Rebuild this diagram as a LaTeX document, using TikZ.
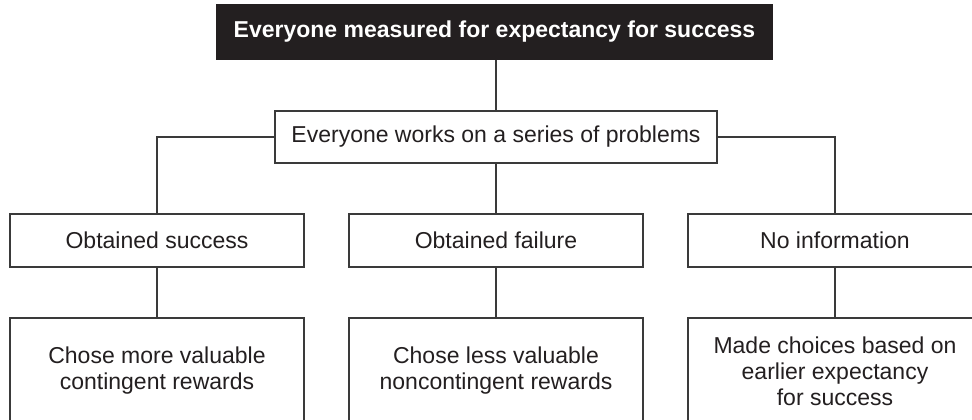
\documentclass[tikz,border=0pt]{standalone}
\usepackage{fontspec}
\setmainfont{Liberation Sans}
\definecolor{ink}{HTML}{231F20}
\definecolor{linec}{HTML}{3A3A3A}
\begin{document}
\begin{tikzpicture}[x=1pt,y=-1pt,
  txt/.style={font=\fontsize{23}{26}\selectfont, text=ink, align=center, inner sep=0pt},
  box/.style={txt, draw=linec, line width=1.1pt, fill=white},
  headbox/.style={draw=ink, fill=ink, text=white, font=\bfseries\fontsize{23}{26}\selectfont, inner sep=0pt, line width=1.1pt},
  conn/.style={draw=linec, line width=1.1pt}]
\useasboundingbox (0,0) rectangle (972,420);
\clip (0,0) rectangle (972,420);
\node[headbox, minimum width=555pt, minimum height=54pt] (top) at (494.5,32) {Everyone measured for expectancy for success};
\node[box, minimum width=442pt, minimum height=52pt] (work) at (496,137) {Everyone works on a series of problems};
\node[box, minimum width=294pt, minimum height=53pt] (succ) at (157,240.5) {Obtained success};
\node[box, minimum width=294pt, minimum height=53pt] (fail) at (496,240.5) {Obtained failure};
\node[box, minimum width=294pt, minimum height=53pt] (noinf) at (835,240.5) {No information};
\node[box, minimum width=294pt, minimum height=106pt] (more) at (157,371) {Chose more valuable\\contingent rewards};
\node[box, minimum width=294pt, minimum height=106pt] (less) at (496,371) {Chose less valuable\\noncontingent rewards};
\node[box, minimum width=294pt, minimum height=106pt] (made) at (835,371) {Made choices based on\\earlier expectancy\\for success};
\draw[conn] (work.north |- top.south) -- (work.north);
\draw[conn] (work.west) -| (succ.north);
\draw[conn] (work.south) -- (fail.north);
\draw[conn] (work.east) -| (noinf.north);
\draw[conn] (succ.south) -- (more.north);
\draw[conn] (fail.south) -- (less.north);
\draw[conn] (noinf.south) -- (made.north);
\end{tikzpicture}
\end{document}
